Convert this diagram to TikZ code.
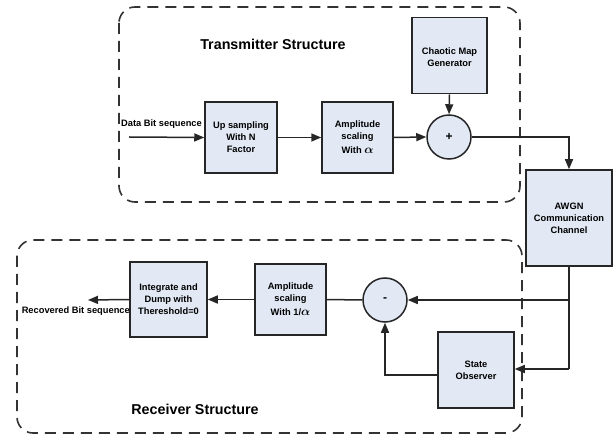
\documentclass[tikz,border=0pt]{standalone}
\usepackage{amsmath}
\usepackage{fontspec}
\setmainfont{Liberation Sans}
\usetikzlibrary{arrows.meta}
\definecolor{boxfill}{RGB}{226,233,245}
\newcommand{\bigalpha}{{\fontsize{11.5}{12}\selectfont$\boldsymbol{\alpha}$}}
\begin{document}
\begin{tikzpicture}[x=1pt,y=-1pt,
  blk/.style={draw=black!85,line width=1.5pt,fill=boxfill,align=center,font=\bfseries\fontsize{9.3}{12}\selectfont,inner sep=1pt},
  sumc/.style={draw=black!85,line width=1.5pt,fill=boxfill,circle,minimum size=44pt,inner sep=0pt,font=\bfseries\fontsize{12}{12}\selectfont},
  grp/.style={draw=black!80,line width=1.6pt,dash pattern=on 11pt off 7pt,rounded corners=16pt},
  title/.style={font=\bfseries\fontsize{14.3}{16}\selectfont},
  lbl/.style={font=\bfseries\fontsize{9.3}{10}\selectfont,inner sep=0pt},
  conn/.style={line width=1.5pt,draw=black!85},
  arr/.style={conn,-{Triangle[length=10pt,width=8pt]}}]
\useasboundingbox (0,0) rectangle (615,435);
% groups
\draw[grp] (119,7) rectangle (520,202);
\draw[grp] (17,240) rectangle (522,433);
\node[title] (ttx) at (273,44) {Transmitter Structure};
\node[title] (trx) at (195,409) {Receiver Structure};
% transmitter blocks
\node[blk,minimum width=72pt,minimum height=71pt] (up) at (241,137.5) {Up sampling\\With N\\Factor};
\node[blk,minimum width=71pt,minimum height=71pt] (amp) at (357.5,137.5) {Amplitude\\scaling\\[2pt]With \bigalpha};
\node[blk,minimum width=75pt,minimum height=76pt,anchor=north] (cmg) at (449.5,17) {\\[-2pt]Chaotic Map\\Generator};
\node[sumc] (sum) at (449,137) {+};
\node[blk,minimum width=86pt,minimum height=96pt] (awgn) at (569,218) {AWGN\\Communication\\Channel};
% receiver blocks
\node[blk,minimum width=77pt,minimum height=75pt] (intd) at (168.5,299.5) {Integrate and\\Dump with\\Thereshold=0};
\node[blk,minimum width=71pt,minimum height=71pt] (amp2) at (290.5,299.5) {Amplitude\\scaling\\[2pt]With 1/\bigalpha};
\node[sumc] (dif) at (385,300) {-};
\node[blk,minimum width=76pt,minimum height=76pt] (obs) at (476,370) {State\\Observer};
% labels
\coordinate (din) at (129,137);
\coordinate (dout) at (88,300);
\node[lbl,anchor=south west] (dlab) at (121,129) {Data Bit sequence};
\node[lbl,anchor=north east] (rlab) at (130,307) {Recovered Bit sequence};
% transmitter connectors
\draw[arr] (din) -- (up.west);
\draw[arr] (up.east) -- (amp.west);
\draw[arr] (amp.east) -- (sum.west);
\draw[arr] (cmg.south) -- (sum.north);
\draw[arr] (sum.east) -| (awgn.north);
% receiver connectors
\coordinate (br) at (569,300);
\coordinate (bot) at (569,369);
\draw[conn] (awgn.south) -- (br) -- (bot);
\draw[arr] (br) -- (dif.east);
\draw[arr] (bot) -- (obs.east |- bot);
\coordinate (obl) at (obs.west |- 0,375);
\draw[arr] (obl) -| (dif.south);
\draw[conn] (dif.west) -- (amp2.east);
\draw[arr] (amp2.west) -- (intd.east);
\draw[arr] (intd.west) -- (dout);
\end{tikzpicture}
\end{document}
